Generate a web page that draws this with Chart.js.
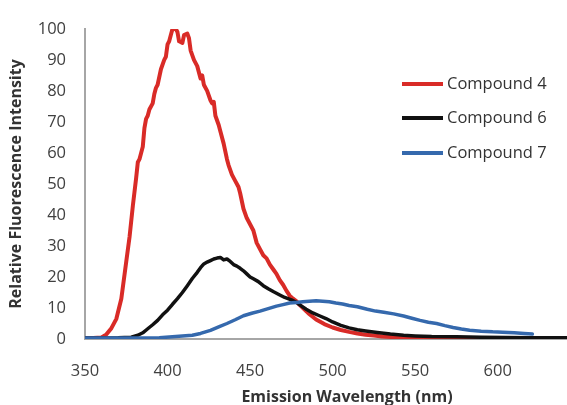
<!DOCTYPE html>
<html>
<head>
<meta charset="utf-8">
<script src="https://cdn.jsdelivr.net/npm/chart.js@4.4.1/dist/chart.umd.min.js"></script>
<style>
html,body{margin:0;padding:0;background:#fff;}
#c{display:block;}
</style>
</head>
<body>
<canvas id="c" width="567" height="405"></canvas>
<script>
// Series names
const seriesNames = ["Compound 4", "Compound 6", "Compound 7"];

// Compound 4 (red)
const wl4 = [350,355,360,363,366,369,372,375,377,379,381,382,383,384,385,386,387,388,389,391,392,393,394,396,398,399,400,401,402,403,405,406,407,409,410,412,413,414,416,418,420,421,422,424,426,427,428,429,431,432,434,436,437,439,441,443,444,446,448,450,452,454,456,458,460,462,464,466,468,470,472,474,476,478,480,483,486,490,495,500,505,510,515,520,525,530,540,550,560,580,600,620];
const val4 = [0.3,0.3,0.5,1.5,3.5,6.5,13,25,33,43,52,57,58,60,62,68,71,72,74,76,79,81,82,87,90,91,95,96,98,100,100,99,96,95.5,98,98.5,97,93,90,88,84,85,82,80,77,76,76.5,72,69,67,63,58,56,53,51,49,47,42,39,37,35,31,29,27,26,24,22.5,21,19,17.5,15.6,14,13,12.2,11,9.5,8,6.3,4.8,3.7,2.9,2.3,1.8,1.4,1.1,0.8,0.5,0.3,0.2,0.2,0.2,0.2];

// Compound 6 (black)
const wl6 = [350,360,370,378,382,385,388,391,394,397,400,403,406,409,412,415,418,420,422,424,426,428,430,432,434,436,438,440,442,444,446,448,450,452,455,458,461,464,468,471,475,478,481,484,488,492,496,500,505,510,515,520,527,535,543,550,560,575,590,605,620,642];
const val6 = [0.3,0.3,0.4,0.6,1.2,2,3.3,4.6,6,7.8,9.3,11.2,13,15,17.2,19.5,21.5,23,24.2,24.8,25.3,25.8,26.1,26.3,25.5,25.8,25,24,23.5,22.8,22,21,20,19.4,18.5,17.2,16.2,15.3,14.2,13.4,12.6,11.8,10.7,9.6,8.4,7.5,6.6,5.5,4.4,3.6,3,2.6,2.1,1.6,1.2,1,0.8,0.7,0.6,0.5,0.4,0.4];

// Compound 7 (blue)
const wl7 = [350,370,385,395,405,415,420,426,431,436,441,446,451,456,461,466,470,474,478,482,486,490,494,498,502,506,510,515,521,526,531,537,543,548,553,558,563,568,573,578,583,590,597,603,610,616,621];
const val7 = [0.3,0.3,0.35,0.4,0.8,1.2,1.8,2.8,3.9,5,6.2,7.5,8.3,9,9.8,10.6,11.1,11.6,11.8,12,12.2,12.3,12.2,12,11.6,11.3,10.8,10.4,9.6,9,8.6,8.1,7.4,6.7,6,5.4,5,4.3,3.7,3.2,2.8,2.5,2.3,2.2,2,1.8,1.6];

// Axis ticks / titles
const xTicks = [350,400,450,500,550,600];
const yTicks = [0,10,20,30,40,50,60,70,80,90,100];
const xTitle = "Emission Wavelength (nm)";
const yTitle = "Relative Fluorescence Intensity";

const colors = ["#d92b27", "#111111", "#3569ad"];

function pts(xs, ys){ return xs.map((x,i)=>({x:x, y:ys[i]})); }

const textPlugin = {
  id: 'customLegendAndTitle',
  afterDraw(chart){
    const ctx = chart.ctx;
    ctx.save();
    // legend
    const ys = [84, 118, 153];
    seriesNames.forEach((name,i)=>{
      ctx.strokeStyle = colors[i];
      ctx.lineWidth = 4;
      ctx.beginPath();
      ctx.moveTo(402, ys[i]);
      ctx.lineTo(443, ys[i]);
      ctx.stroke();
      ctx.fillStyle = "#333333";
      ctx.font = "16.5px 'Open Sans'";
      ctx.textBaseline = "middle";
      ctx.textAlign = "left";
      ctx.fillText(name, 447, ys[i]);
    });
    // x axis title
    ctx.font = "bold 16px 'Open Sans'";
    ctx.fillStyle = "#333333";
    ctx.textAlign = "center";
    ctx.textBaseline = "middle";
    ctx.fillText(xTitle, 347, 397);
    ctx.restore();
  }
};

const tickFont = {family: "'Open Sans'", size: 16.5};
const titleFont = {family: "'Open Sans'", size: 16, weight: 'bold'};

new Chart(document.getElementById('c'), {
  type: 'line',
  data: {
    datasets: [
      {label: seriesNames[0], data: pts(wl4, val4), borderColor: colors[0], borderWidth: 4, order: 3},
      {label: seriesNames[1], data: pts(wl6, val6), borderColor: colors[1], borderWidth: 3.5, order: 2},
      {label: seriesNames[2], data: pts(wl7, val7), borderColor: colors[2], borderWidth: 3.5, order: 1}
    ]
  },
  options: {
    responsive: false,
    animation: false,
    devicePixelRatio: 1,
    layout: {padding: {top: 20, right: 0, left: 0, bottom: 0}},
    elements: {point: {radius: 0}, line: {tension: 0, borderJoinStyle: 'round', borderCapStyle: 'round'}},
    plugins: {legend: {display: false}, tooltip: {enabled: false}},
    scales: {
      x: {
        type: 'linear',
        min: 350, max: 642,
        afterBuildTicks(scale){ scale.ticks = xTicks.map(v=>({value:v})); },
        afterFit(scale){ scale.height = 66; },
        grid: {drawOnChartArea: false, drawTicks: false},
        border: {display: true, color: '#a6a6a6', width: 2},
        ticks: {font: tickFont, color: '#404040', padding: 22, maxRotation: 0, autoSkip: false},
        title: {display: false}
      },
      y: {
        type: 'linear',
        min: 0, max: 100,
        afterBuildTicks(scale){ scale.ticks = yTicks.map(v=>({value:v})); },
        afterFit(scale){ scale.width = 85; },
        grid: {drawOnChartArea: false, drawTicks: false},
        border: {display: true, color: '#a6a6a6', width: 2},
        ticks: {font: tickFont, color: '#404040', padding: 19},
        title: {display: true, text: yTitle, font: titleFont, color: '#333333', padding: {top: 7, bottom: 0}}
      }
    }
  },
  plugins: [textPlugin]
});
</script>
</body>
</html>
